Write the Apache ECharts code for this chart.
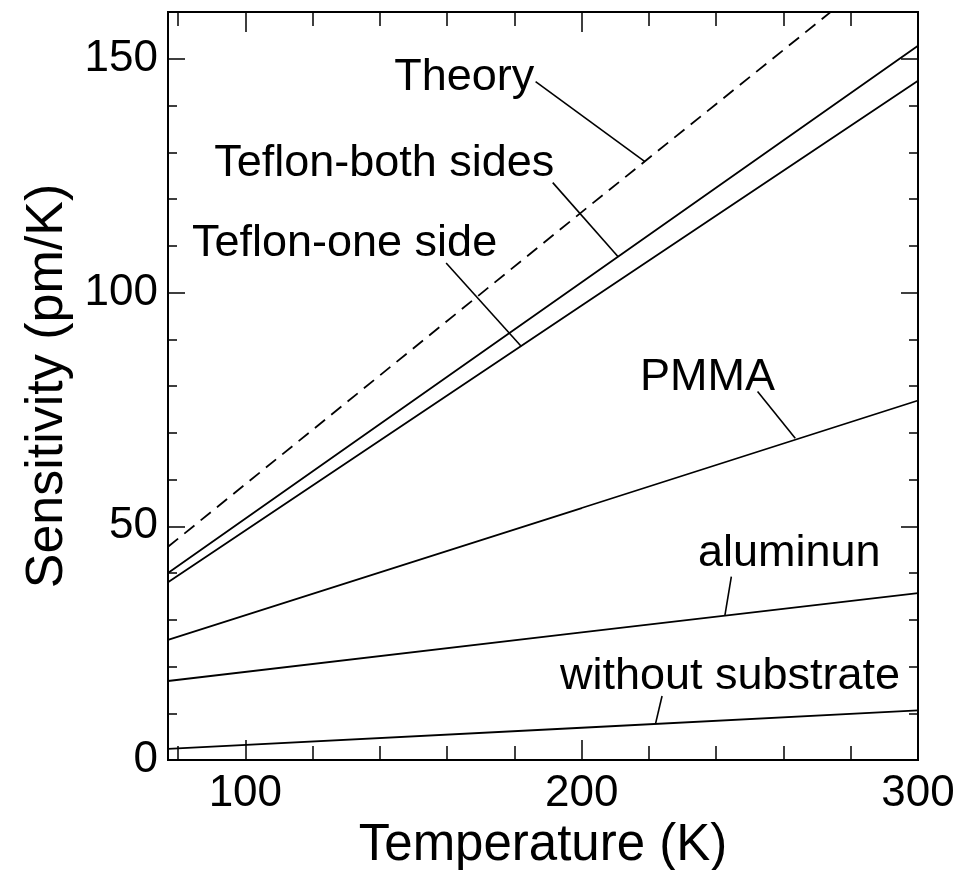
<!DOCTYPE html>
<html>
<head>
<meta charset="utf-8">
<script src="https://cdn.jsdelivr.net/npm/echarts@6/dist/echarts.min.js"></script>
<style>
  html, body { margin: 0; padding: 0; background: #fff; }
  #chart { width: 979px; height: 870px; }
</style>
</head>
<body>
<div id="chart"></div>
<script>
// Temperatures (K) at which each sensitivity curve is sampled
const temps = [77, 200, 300];

// Sensitivity (pm/K) for each configuration
const theory      = [45.6, 117.2, 175.0];
const teflonBoth  = [40.0, 102.2, 152.8];
const teflonOne   = [38.0, 97.2, 145.3];
const pmma        = [25.7, 53.9, 76.9];
const aluminum    = [16.9, 27.3, 35.7];
const noSubstrate = [2.4, 6.9, 10.6];

// Axis ticks
const xMajorTicks = [100, 200, 300];
const xMinorTicks = [80, 120, 140, 160, 180, 220, 240, 260, 280];
const yMajorTicks = [0, 50, 100, 150];
const yMinorTicks = [10, 20, 30, 40, 60, 70, 80, 90, 110, 120, 130, 140];

// Curve labels: text, text centre, and leader line from label to curve
const labelTexts   = ['Theory', 'Teflon-both sides', 'Teflon-one side', 'PMMA', 'aluminun', 'without substrate'];
const labelCentres = [[165.1, 146.0], [141.3, 127.6], [129.5, 110.4], [237.4, 81.8], [261.7, 44.1], [244.1, 17.8]];
const leaderStarts = [[186.3, 145.1], [191.4, 123.5], [159.7, 106.3], [252.3, 78.8], [244.5, 39.2], [223.9, 13.7]];
const leaderEnds   = [[218.8, 128.0], [210.9, 107.6], [182.0, 88.5], [263.5, 68.8], [242.6, 31.0], [222.0, 7.9]];

const FONT = '"Liberation Sans", Arial, Helvetica, sans-serif';
const INK = '#000';

const pairs = vals => temps.map((t, i) => [t, vals[i]]);

function curve(name, vals, dashed) {
  return {
    name, type: 'line', data: pairs(vals),
    xAxisIndex: 0, yAxisIndex: 0,
    showSymbol: false, symbol: 'none', silent: true, animation: false,
    clip: true,
    lineStyle: { color: INK, width: 1.8, type: dashed ? [13, 8] : 'solid' },
    z: 3
  };
}

function xAxisDef(position, ticks, len, labels) {
  return {
    type: 'value', position, min: 77, max: 300,
    axisLine: { show: true, onZero: false, lineStyle: { color: INK, width: 2 } },
    axisTick: { show: true, inside: true, length: len, customValues: ticks, lineStyle: { color: INK, width: 1.5 } },
    axisLabel: labels ? {
      show: true, customValues: xMajorTicks, margin: 12,
      color: INK, fontFamily: FONT, fontSize: 44
    } : { show: false },
    splitLine: { show: false },
    name: labels ? 'Temperature (K)' : '',
    nameLocation: 'middle', nameGap: 56,
    nameTextStyle: { color: INK, fontFamily: FONT, fontSize: 51 }
  };
}

function yAxisDef(position, ticks, len, labels) {
  return {
    type: 'value', position, min: 0, max: 160,
    axisLine: { show: true, onZero: false, lineStyle: { color: INK, width: 2 } },
    axisTick: { show: true, inside: true, length: len, customValues: ticks, lineStyle: { color: INK, width: 1.5 } },
    axisLabel: labels ? {
      show: true, customValues: yMajorTicks, margin: 10,
      color: INK, fontFamily: FONT, fontSize: 44
    } : { show: false },
    splitLine: { show: false },
    name: labels ? 'Sensitivity (pm/K)' : '',
    nameLocation: 'middle', nameGap: 88, nameRotate: 90,
    nameTextStyle: { color: INK, fontFamily: FONT, fontSize: 52 }
  };
}

const series = [
  curve('Theory', theory, true),
  curve('Teflon-both sides', teflonBoth, false),
  curve('Teflon-one side', teflonOne, false),
  curve('PMMA', pmma, false),
  curve('aluminun', aluminum, false),
  curve('without substrate', noSubstrate, false)
];

labelTexts.forEach((txt, i) => {
  series.push({
    type: 'line', data: [leaderStarts[i], leaderEnds[i]],
    xAxisIndex: 0, yAxisIndex: 0,
    showSymbol: false, symbol: 'none', silent: true, animation: false,
    lineStyle: { color: INK, width: 1.6 }, z: 4
  });
});

const chart = echarts.init(document.getElementById('chart'), null, { renderer: 'canvas' });
chart.setOption({
  backgroundColor: '#fff',
  animation: false,
  grid: { left: 168, right: 61, top: 12, bottom: 110, containLabel: false, outerBoundsMode: 'none' },
  xAxis: [
    xAxisDef('bottom', xMajorTicks, 20, true),
    xAxisDef('bottom', xMinorTicks, 14, false),
    xAxisDef('top', xMajorTicks, 20, false),
    xAxisDef('top', xMinorTicks, 14, false)
  ],
  yAxis: [
    yAxisDef('left', yMajorTicks, 17, true),
    yAxisDef('left', yMinorTicks, 9, false),
    yAxisDef('right', yMajorTicks, 17, false),
    yAxisDef('right', yMinorTicks, 9, false)
  ],
  series
});

// Curve name labels, placed at their data-space centres
chart.setOption({
  graphic: labelTexts.map((txt, i) => {
    const [px, py] = chart.convertToPixel({ xAxisIndex: 0, yAxisIndex: 0 }, labelCentres[i]);
    return {
      type: 'text', x: px, y: py, silent: true, z: 10,
      style: {
        text: txt, fill: INK, font: '45px ' + FONT,
        align: 'center', verticalAlign: 'middle'
      }
    };
  })
});
</script>
</body>
</html>
